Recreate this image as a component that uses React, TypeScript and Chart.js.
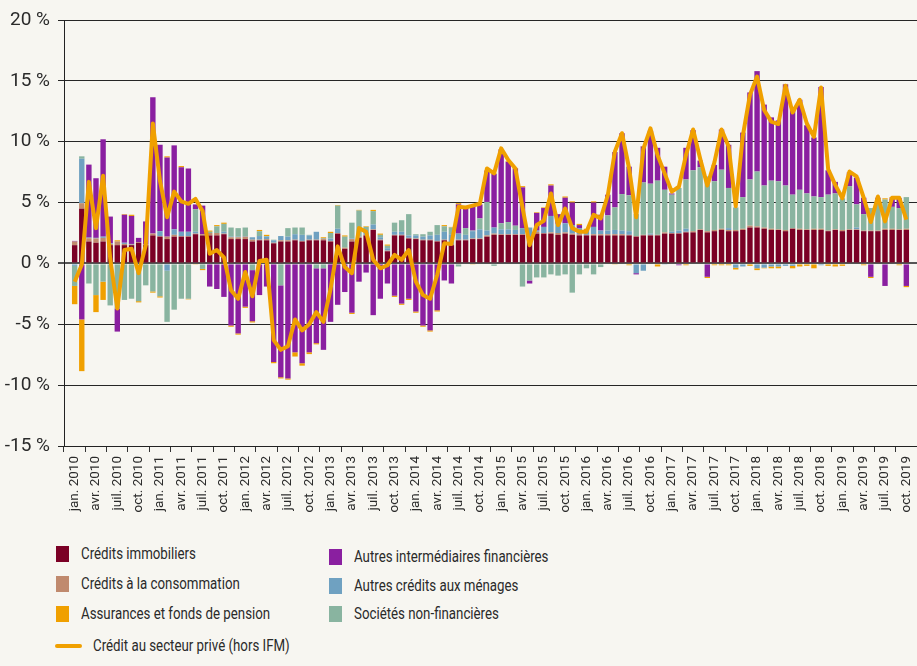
import React, { useEffect, useRef } from 'react';
import { Chart, registerables } from 'chart.js';

Chart.register(...registerables);

// ---- Categories / tick labels ----
const MONTH_ABBR = ['jan.', 'févr.', 'mars', 'avr.', 'mai', 'juin', 'juil.', 'août', 'sept.', 'oct.', 'nov.', 'déc.'];
const START_YEAR = 2010;
const N_MONTHS = 118; // jan. 2010 -> oct. 2019
const categories: string[] = Array.from({ length: N_MONTHS }, (_, i) => `${MONTH_ABBR[i % 12]} ${START_YEAR + Math.floor(i / 12)}`);
const Y_MIN = -15;
const Y_MAX = 20;
const Y_STEP = 5;

// ---- Series (contributions, percentage points) ----
const creditsImmobiliers = [
  1.5, 4.5, 1.8, 1.7, 1.8, 1.5, 1.5, 1.5, 1.5, 1.7,
  1.5, 2.3, 2.2, 2.0, 2.2, 2.2, 2.2, 2.4, 2.3, 2.3,
  2.3, 2.4, 2.0, 2.0, 2.0, 1.8, 1.9, 1.9, 1.65, 1.8,
  1.8, 1.9, 1.8, 1.9, 1.9, 1.9, 1.8, 2.45, 1.2, 1.8,
  2.1, 2.3, 2.75, 1.9, 1.0, 2.3, 2.3, 2.05, 2.0, 1.9,
  1.9, 1.8, 1.9, 1.5, 1.9, 1.9, 2.0, 2.0, 2.2, 2.35,
  2.35, 2.35, 2.35, 2.35, 2.2, 2.45, 2.45, 2.45, 2.35, 2.45,
  2.35, 2.3, 2.3, 2.3, 2.3, 2.3, 2.3, 2.3, 2.3, 2.2,
  2.3, 2.3, 2.3, 2.45, 2.45, 2.45, 2.55, 2.55, 2.75, 2.55,
  2.65, 2.75, 2.65, 2.65, 2.75, 2.95, 2.95, 2.85, 2.75, 2.75,
  2.65, 2.85, 2.75, 2.75, 2.75, 2.75, 2.65, 2.75, 2.65, 2.75,
  2.75, 2.65, 2.65, 2.65, 2.75, 2.75, 2.75, 2.75,
];

const creditsConsommation = [
  0.3, 0.45, 0.27, 0.35, 0.3, 0.1, 0.3, 0.1, 0.05, 0.05,
  0.05, 0.15, 0.05, 0.2, 0.15, 0.05, 0.05, 0.05, 0.1, 0.2,
  0.2, 0.05, 0.15, 0.15, 0.2, 0.15, 0.05, 0.1, 0.05, 0.1,
  0.1, 0.05, 0.05, 0.05, 0.05, 0.1, 0.05, 0.05, 0.1, 0.2,
  0.1, 0.05, 0.05, 0.05, 0.05, 0.05, 0.05, 0.05, 0.05, 0.05,
  0.05, 0.05, 0.05, 0.1, 0.05, 0.05, 0.05, 0.05, 0.1, 0.1,
  0.05, 0.05, 0.05, 0.05, 0.05, 0.15, 0.05, 0.1, 0.15, 0.1,
  0.1, 0.1, 0.05, 0.1, 0.1, 0.1, 0.1, 0.1, 0.05, 0.05,
  0.05, 0.05, 0.05, 0.1, 0.05, 0.05, 0.05, 0.1, 0.05, 0.1,
  0.1, 0.1, 0.1, 0.1, 0.1, 0.15, 0.1, 0.1, 0.1, 0.05,
  0.1, 0.05, 0.1, 0.05, 0.1, 0.1, 0.05, 0.05, 0.1, 0.05,
  0.05, 0.05, 0.05, 0.05, 0.1, 0.1, 0.05, 0.1,
];

const assurancesFondsPension = [
  -1.5, -4.25, 0, -1.4, -1.5, 0, 0.1, 0.05, 0.1, -0.1,
  0, -0.1, -0.1, 0.1, 0, 0.1, -0.05, -0.1, -0.1, 0.1,
  0.1, 0.1, -0.1, -0.1, -0.1, -0.1, 0.1, 0.1, -0.1, -0.1,
  -0.1, -0.35, -0.2, -0.15, -0.1, 0.1, 0.1, 0.05, 0.1, -0.1,
  0.05, 0.05, 0.1, 0.1, 0.1, -0.1, -0.1, -0.1, -0.1, -0.1,
  -0.1, -0.1, 0.1, 0.05, 0.1, 0, -0.1, 0, 0.05, 0.05,
  0.05, 0.05, 0.05, 0.1, 0, 0.05, 0.05, 0.1, 0, 0.1,
  0.1, 0.1, 0.1, 0.1, 0, 0, -0.1, 0, -0.15, 0,
  0.05, 0, -0.25, 0, 0, 0, -0.15, 0, 0, -0.1,
  -0.15, -0.15, -0.15, -0.15, 0, -0.2, -0.15, -0.05, -0.15, -0.15,
  0.05, -0.2, -0.25, -0.2, -0.4, 0, -0.2, -0.25, -0.2, 0.05,
  0, -0.15, -0.1, 0, 0.1, 0.1, -0.15, -0.1,
];

const autresIntermediairesFinanciers = [
  0.05, -4.6, 6.0, 4.9, 8.0, 2.2, -1.9, 2.3, 2.3, 0.35,
  1.9, 11.2, 7.1, 6.5, 6.9, 5.3, 5.2, 0.4, 2.35, -1.9,
  -2.1, -2.75, -5.1, -5.75, -3.55, -4.2, -2.6, -1.9, -8.1, -7.55,
  -9.45, -7.3, -8.2, -7.3, -6.15, -6.7, -4.8, -3.4, -2.35, -4.05,
  -1.5, -0.75, -4.25, -2.9, -1.65, -2.65, -3.3, -2.9, -3.95, -5.1,
  -5.5, -3.85, -1.4, -1.65, 2.4, 1.7, 2.0, 1.15, 2.55, 4.4,
  6.05, 4.95, 4.7, 3.35, -0.25, 1.45, 1.55, 2.5, 0.8, 2.1,
  1.85, 0.25, 0, 2.0, 1.3, 1.7, 4.55, 5.0, 2.35, -0.1,
  2.95, 4.35, 2.7, 1.9, 0.1, -0.15, 2.6, 3.3, 0.55, -1.1,
  1.35, 3.3, 3.55, 0, 5.3, 7.15, 8.25, 6.65, 5.2, 5.0,
  8.3, 7.0, 7.4, 5.6, 4.85, 9.05, 2.0, 0.95, 0, 1.1,
  2.2, 1.35, -1.1, 0.1, -1.85, 0.7, 0.8, -1.85,
];

const autresCreditsMenages = [
  -0.2, 3.65, 0.05, 0.05, 0.1, 0.05, 0, 0.1, 0.05, 0,
  0, 0, 0.4, -0.6, 0.45, 0.35, 0.35, 0.15, 0, 0,
  0, 0.15, 0.05, 0.05, 0.05, 0.2, 0.3, 0.2, 0.2, 0.35,
  0.3, 0.45, 0.5, 0.35, 0.65, 0.05, 0.2, 0.35, 0, 0.05,
  0.05, 0.3, 0.4, 0.2, 0.2, 0.25, 0.25, 0.2, 0.25, 0.25,
  0.35, 0.5, 0.65, 0.8, 0.5, 0.4, 0.6, 0.75, 0.4, 0.5,
  0.4, 0.4, 0.35, 0.5, 0.7, 0.1, 0.5, 1.35, 0.75, 0.75,
  0.7, 0.5, 0.4, 0.6, 0.3, 0.3, 0.35, 0.3, 0.3, -0.8,
  -0.6, 0.1, 0, -0.1, 0.1, 0.2, 0.25, 0, 0, 0,
  0, 0, 0.15, -0.35, -0.25, 0, -0.4, -0.35, -0.25, -0.25,
  -0.2, -0.2, 0, 0, 0, -0.15, 0, 0, 0, 0,
  0.15, 0, 0, 0, 0, 0, 0, 0,
];

const societesNonFinancieres = [
  -1.65, 0.2, -1.65, -2.6, -1.5, -3.45, -3.7, -3.0, -2.9, -3.1,
  -1.8, -2.3, -2.7, -4.2, -3.8, -2.9, -2.9, 1.85, -0.45, 0.1,
  0.55, 0.65, 0.75, 0.7, 0.7, -0.55, 0.4, 0.05, 0.05, -1.8,
  0.7, 0.55, 0.6, 0.05, -0.4, -0.4, 0.45, 1.9, 0.9, 1.3,
  2.1, 0.35, 1.1, 0.2, 0.2, 0.75, 0.95, 1.75, 0.1, 0.2,
  0.3, 0.8, 0.45, 0.55, -0.25, 0.55, 0.05, 0.9, 2.35, -0.2,
  0.5, 0.6, 0.35, -1.9, -1.4, -1.15, -1.15, -0.9, -1.0, -0.9,
  -2.4, -0.9, -0.4, -0.9, -0.3, 1.25, 1.85, 3.0, 2.95, 1.8,
  4.3, 4.1, 4.45, 3.5, 3.05, 3.5, 4.05, 5.0, 5.1, 4.5,
  4.0, 4.85, 3.3, 1.85, 2.6, 3.8, 4.5, 3.45, 3.95, 3.95,
  3.65, 2.75, 3.2, 2.95, 2.65, 2.6, 2.95, 2.95, 2.6, 3.55,
  1.9, 1.35, 1.85, 2.6, 2.4, 1.8, 1.75, 2.6,
];

const creditSecteurPrive = [
  -1.5, -0.1, 6.7, 2.9, 7.2, 0.4, -3.7, 1.1, 1.2, -0.8,
  1.5, 11.5, 6.8, 3.8, 5.9, 5.1, 4.9, 5.3, 4.3, 0.8,
  1.1, 0.5, -2.2, -2.9, -0.7, -2.7, 0.2, 0.3, -6.3, -7.1,
  -6.8, -4.6, -5.5, -5.0, -4.0, -4.8, -2.1, 1.4, -0.3, -0.8,
  2.9, 2.6, 0.3, -0.4, -0.15, 0.7, 0.3, 1.1, -1.5, -2.6,
  -2.9, -0.95, 1.65, 1.6, 4.65, 4.6, 4.75, 4.9, 7.8, 7.4,
  9.45, 8.5, 7.8, 4.6, 1.5, 3.15, 3.5, 5.75, 3.15, 4.5,
  2.9, 2.6, 2.6, 4.0, 3.7, 5.6, 9.2, 10.7, 7.8, 3.8,
  9.4, 11.1, 8.9, 7.4, 5.9, 6.3, 8.9, 11.0, 8.6, 6.4,
  8.3, 11.0, 9.6, 4.7, 10.5, 13.85, 15.35, 12.6, 11.65, 11.45,
  14.6, 12.4, 13.45, 11.5, 10.4, 14.45, 7.75, 6.45, 5.35, 7.55,
  7.15, 5.4, 3.4, 5.5, 3.45, 5.4, 5.4, 3.6,
];

// ---- Styles ----
const BG = '#f7f6f1';
const C_IMMO = '#7b0025';
const C_CONSO = '#c08a6e';
const C_ASSUR = '#f0a000';
const C_AIF = '#8a1fa0';
const C_MENAGES = '#6fa1c1';
const C_SNF = '#89b4a0';
const C_LINE = '#f0a000';
const FONT = "Roboto, 'Noto Sans', sans-serif";
const TEXT = '#2a2a2a';

// one empty slot before and after the months (the axis leaves room there)
const labels = ['', ...categories, ''];
const pad = (a: number[]) => [null, ...a, null];

const barSeries = [
  { label: 'Crédits immobiliers', data: creditsImmobiliers, color: C_IMMO },
  { label: 'Crédits à la consommation', data: creditsConsommation, color: C_CONSO },
  { label: 'Autres crédits aux ménages', data: autresCreditsMenages, color: C_MENAGES },
  { label: 'Sociétés non-financières', data: societesNonFinancieres, color: C_SNF },
  { label: 'Autres intermédiaires financières', data: autresIntermediairesFinanciers, color: C_AIF },
  { label: 'Assurances et fonds de pension', data: assurancesFondsPension, color: C_ASSUR },
];

function ChartCanvas() {
  const ref = useRef<HTMLCanvasElement | null>(null);
  useEffect(() => {
    if (!ref.current) return;
    const datasets: any[] = [
      {
        type: 'line',
        label: 'Crédit au secteur privé (hors IFM)',
        data: pad(creditSecteurPrive),
        borderColor: C_LINE,
        borderWidth: 4,
        pointRadius: 0,
        tension: 0,
        stack: 'line',
        order: 0,
        borderJoinStyle: 'round',
      },
      ...barSeries.map((s) => ({
        type: 'bar',
        label: s.label,
        data: pad(s.data),
        backgroundColor: s.color,
        borderWidth: 0,
        stack: 'bars',
        order: 1,
        barPercentage: 0.76,
        categoryPercentage: 1,
      })),
    ];
    const chart = new Chart(ref.current, {
      type: 'bar',
      data: { labels, datasets },
      options: {
        animation: false,
        responsive: true,
        maintainAspectRatio: false,
        layout: { padding: { top: 20, right: 0, bottom: 0, left: 0 } },
        plugins: { legend: { display: false }, tooltip: { enabled: false } },
        scales: {
          x: {
            stacked: true,
            offset: true,
            afterFit: (scale: any) => {
              scale.height = 84;
              scale.paddingLeft = 0;
              scale.paddingRight = 0;
            },
            grid: {
              offset: true,
              drawOnChartArea: false,
              drawTicks: true,
              tickLength: 6,
              color: (ctx: any) => (ctx.index !== undefined && ctx.index % 3 === 0 ? '#333' : 'rgba(0,0,0,0)'),
              lineWidth: 1,
            },
            border: { display: true, color: '#222', width: 1 },
            ticks: {
              autoSkip: false,
              minRotation: 90,
              maxRotation: 90,
              padding: 4,
              color: TEXT,
              font: { family: FONT, size: 13.5 },
              callback: (_v: any, index: number) => {
                const m = index - 1;
                return m >= 0 && m < N_MONTHS && m % 3 === 0 ? categories[m] : '';
              },
            },
          },
          y: {
            stacked: true,
            min: Y_MIN,
            max: Y_MAX,
            afterFit: (scale: any) => {
              scale.width = 64;
            },
            grid: {
              color: (ctx: any) => (ctx.tick && ctx.tick.value === 0 ? '#555' : '#262626'),
              lineWidth: (ctx: any) => (ctx.tick && ctx.tick.value === 0 ? 2 : 1),
              drawTicks: true,
              tickLength: 6,
            },
            border: { display: true, color: '#222', width: 1 },
            ticks: {
              stepSize: Y_STEP,
              padding: 8,
              color: TEXT,
              font: { family: FONT, size: 19 },
              callback: (v: any) => `${v} %`,
            },
          },
        },
      } as any,
    });
    return () => chart.destroy();
  }, []);
  return (
    <div style={{ position: 'absolute', left: 0, top: 0, width: 917, height: 530 }}>
      <canvas ref={ref} />
    </div>
  );
}

const legendLeft = [
  { label: 'Crédits immobiliers', color: C_IMMO, y: 554 },
  { label: 'Crédits à la consommation', color: C_CONSO, y: 584 },
  { label: 'Assurances et fonds de pension', color: C_ASSUR, y: 614 },
];
const legendRight = [
  { label: 'Autres intermédiaires financières', color: C_AIF, y: 557 },
  { label: 'Autres crédits aux ménages', color: C_MENAGES, y: 586 },
  { label: 'Sociétés non-financières', color: C_SNF, y: 614 },
];

const legendText: React.CSSProperties = {
  position: 'absolute',
  height: 22,
  lineHeight: '22px',
  fontFamily: FONT,
  fontSize: 16,
  color: TEXT,
  whiteSpace: 'nowrap',
  transform: 'scaleX(0.83)',
  transformOrigin: 'left center',
};

function LegendItem({ x, textX, y, color, label }: { x: number; textX: number; y: number; color: string; label: string }) {
  return (
    <>
      <div style={{ position: 'absolute', left: x, top: y - 8, width: 13, height: 16, background: color }} />
      <div style={{ ...legendText, left: textX, top: y - 11 }}>{label}</div>
    </>
  );
}

export default function App() {
  return (
    <div style={{ position: 'fixed', left: 0, top: 0, width: 917, height: 666, background: BG, overflow: 'hidden' }}>
      <ChartCanvas />
      {legendLeft.map((l) => (
        <LegendItem key={l.label} x={56} textX={81} y={l.y} color={l.color} label={l.label} />
      ))}
      {legendRight.map((l) => (
        <LegendItem key={l.label} x={329} textX={354} y={l.y} color={l.color} label={l.label} />
      ))}
      <div style={{ position: 'absolute', left: 55, top: 644, width: 27, height: 4, background: C_LINE, borderRadius: 2 }} />
      <div style={{ ...legendText, left: 93, top: 635 }}>Crédit au secteur privé (hors IFM)</div>
    </div>
  );
}
